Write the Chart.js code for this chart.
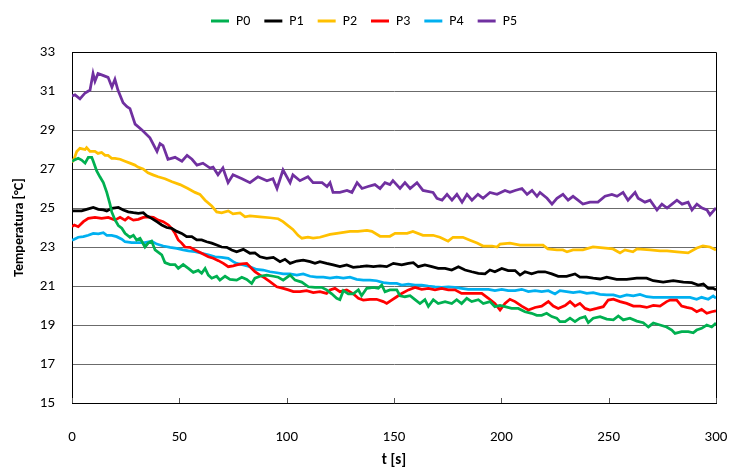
<!DOCTYPE html>
<html>
<head>
<meta charset="utf-8">
<script src="https://cdn.jsdelivr.net/npm/chart.js@4.4.0/dist/chart.umd.min.js"></script>
<style>
  body { margin: 0; background: #fff; }
  #wrap { width: 731px; height: 468px; position: relative; }
</style>
</head>
<body>
<div id="wrap"><canvas id="myChart"></canvas></div>
<script>
// readings taken off the curves: time [s] and temperature [°C] per sensor
const p0Time = [0, 1.1, 2.9, 4.5, 6.1, 7.6, 9.2, 9.9, 11.5, 13.0, 14.6, 16.2, 17.7, 18.5, 20.0, 21.6, 23.2, 24.7, 27.0, 28.6,
  30.1, 31.7, 34.0, 35.5, 37.1, 38.7, 41.8, 43.3, 45.7, 48.0, 49.5, 51.8, 54.2, 56.5, 58.8, 60.4, 62.0, 63.5, 65.1, 67.4,
  68.9, 71.3, 73.6, 76.7, 79.1, 81.4, 83.7, 85.2, 87.6, 90.7, 93.8, 96.1, 98.4, 101.6, 103.9, 107.0, 110.1, 113.2, 116.3, 118.6,
  121.0, 123.3, 124.8, 126.4, 128.7, 131.0, 133.4, 134.9, 137.3, 140.4, 142.7, 144.3, 145.8, 148.1, 151.3, 152.8, 155.1, 157.5, 159.8, 162.1,
  164.4, 166.0, 168.3, 170.6, 173.8, 176.9, 179.2, 181.5, 183.9, 186.2, 189.3, 191.6, 194.7, 197.0, 199.4, 201.7, 204.8, 207.9, 211.0, 214.1,
  216.5, 218.8, 221.1, 223.5, 225.8, 227.3, 229.7, 232.0, 234.3, 236.6, 239.0, 240.5, 242.8, 246.0, 249.1, 252.2, 254.5, 256.8, 259.9, 263.1,
  266.1, 268.5, 270.8, 273.9, 277.0, 279.4, 280.9, 284.0, 287.1, 289.4, 291.0, 293.3, 295.7, 298.0, 300];
const p0Temp = [27.4, 27.46, 27.55, 27.46, 27.3, 27.6, 27.6, 27.4, 26.9, 26.6, 26.3, 25.8, 25.2, 24.8, 24.4, 24.1, 23.96, 23.7, 23.5, 23.6,
  23.36, 23.45, 23.0, 23.2, 23.3, 22.85, 22.6, 22.2, 22.1, 22.1, 21.9, 22.1, 21.9, 21.7, 21.8, 21.65, 21.9, 21.56, 21.4, 21.5,
  21.3, 21.5, 21.34, 21.3, 21.45, 21.34, 21.13, 21.4, 21.5, 21.56, 21.5, 21.45, 21.3, 21.56, 21.3, 21.2, 20.96, 20.93, 20.93, 20.8,
  20.6, 20.37, 20.3, 20.76, 20.6, 20.6, 20.8, 20.5, 20.88, 20.93, 20.88, 21.05, 20.7, 20.8, 20.8, 20.5, 20.45, 20.5, 20.3, 20.1,
  20.3, 19.95, 20.3, 20.1, 20.2, 20.1, 20.3, 20.1, 20.37, 20.2, 20.3, 20.1, 20.2, 19.94, 20.0, 19.94, 19.85, 19.85, 19.68, 19.6,
  19.5, 19.5, 19.6, 19.43, 19.35, 19.17, 19.17, 19.35, 19.17, 19.35, 19.43, 19.12, 19.35, 19.43, 19.3, 19.26, 19.46, 19.26, 19.35, 19.2,
  19.12, 18.9, 19.1, 19.0, 18.9, 18.74, 18.57, 18.66, 18.66, 18.6, 18.74, 18.83, 19.0, 18.9, 19.1];

const p1Time = [0, 1.1, 4.5, 6.8, 9.9, 12.3, 14.6, 16.2, 18.5, 21.6, 23.9, 26.2, 28.6, 30.9, 33.2, 34.8, 37.1, 39.5, 41.8, 44.1,
  46.4, 48.8, 51.1, 53.4, 55.8, 58.1, 60.4, 62.7, 65.1, 67.4, 69.7, 72.1, 74.4, 76.7, 79.8, 82.9, 85.2, 87.6, 90.7, 93.8,
  96.9, 99.2, 101.6, 104.7, 107.7, 110.9, 113.2, 115.5, 118.6, 121.7, 124.8, 128.0, 131.0, 134.2, 137.3, 140.4, 143.5, 146.6, 149.7, 153.6,
  156.7, 159.0, 161.3, 164.4, 167.6, 170.6, 173.8, 176.9, 180.0, 183.1, 186.2, 189.3, 192.4, 194.7, 197.0, 200.2, 203.2, 206.4, 208.7, 211.0,
  214.1, 217.2, 220.3, 223.5, 226.5, 230.4, 234.3, 236.6, 239.8, 242.8, 246.0, 249.1, 253.7, 258.4, 263.1, 267.7, 270.8, 275.4, 280.1, 284.8,
  288.7, 291.7, 294.1, 296.4, 298.7, 300];
const p1Temp = [24.85, 24.85, 24.85, 24.93, 25.03, 24.93, 24.9, 24.85, 24.98, 25.03, 24.9, 24.8, 24.76, 24.73, 24.76, 24.6, 24.47, 24.3, 24.13, 24.0,
  23.96, 23.8, 23.7, 23.53, 23.53, 23.36, 23.36, 23.27, 23.2, 23.1, 23.0, 22.98, 22.85, 22.76, 22.88, 22.68, 22.7, 22.5, 22.42, 22.47,
  22.25, 22.37, 22.16, 22.28, 22.33, 22.25, 22.16, 22.25, 22.16, 22.08, 21.99, 22.08, 21.96, 21.99, 22.03, 21.99, 22.03, 21.99, 22.16, 22.08,
  22.16, 22.2, 21.99, 22.08, 21.99, 21.9, 21.9, 21.82, 21.99, 21.82, 21.73, 21.65, 21.62, 21.82, 21.73, 21.9, 21.79, 21.79, 21.56, 21.73,
  21.62, 21.73, 21.73, 21.62, 21.5, 21.5, 21.62, 21.45, 21.45, 21.4, 21.36, 21.45, 21.34, 21.34, 21.4, 21.4, 21.27, 21.2, 21.27, 21.2,
  21.17, 21.05, 21.1, 20.88, 20.88, 20.8];

const p2Time = [0, 1.1, 2.2, 3.7, 6.1, 6.8, 8.4, 10.7, 12.1, 13.8, 15.4, 16.8, 18.5, 20.0, 22.4, 24.7, 27.0, 29.3, 30.7, 33.1,
  35.4, 37.7, 40.1, 43.3, 46.6, 50.3, 54.0, 57.3, 59.6, 62.0, 65.1, 67.4, 69.7, 72.8, 75.0, 78.3, 80.6, 82.9, 87.6, 92.2,
  96.0, 98.3, 100.6, 102.9, 105.3, 107.1, 109.9, 112.3, 115.5, 120.2, 123.4, 129.5, 133.2, 137.4, 139.7, 143.5, 148.1, 150.5, 156.1, 158.8,
  163.5, 168.2, 171.4, 175.2, 177.5, 182.1, 185.4, 188.7, 191.5, 195.7, 198.0, 199.4, 204.0, 208.7, 214.8, 219.4, 221.7, 225.9, 228.7, 230.6,
  233.4, 238.0, 242.7, 247.4, 252.0, 255.3, 257.6, 261.3, 263.2, 269.3, 273.9, 277.2, 281.8, 287.0, 291.1, 293.9, 297.2, 300];
const p2Temp = [27.35, 27.55, 27.9, 28.06, 28.0, 28.1, 27.9, 27.9, 27.8, 27.85, 27.7, 27.7, 27.55, 27.55, 27.5, 27.4, 27.3, 27.2, 27.1, 27.0,
  26.8, 26.7, 26.6, 26.5, 26.35, 26.2, 26.0, 25.8, 25.7, 25.4, 25.1, 24.8, 24.75, 24.85, 24.7, 24.75, 24.55, 24.6, 24.55, 24.5,
  24.45, 24.3, 24.1, 23.9, 23.6, 23.45, 23.5, 23.45, 23.5, 23.65, 23.7, 23.8, 23.8, 23.85, 23.8, 23.55, 23.55, 23.7, 23.7, 23.8,
  23.6, 23.6, 23.5, 23.3, 23.5, 23.5, 23.35, 23.2, 23.05, 23.05, 23.0, 23.15, 23.2, 23.1, 23.1, 23.1, 22.9, 22.85, 22.85, 22.75,
  22.85, 22.85, 23.0, 22.95, 22.9, 22.7, 22.85, 22.75, 22.9, 22.85, 22.8, 22.8, 22.75, 22.7, 22.95, 23.05, 23.0, 22.85];

const p3Time = [0, 1.1, 2.9, 5.3, 7.6, 10.7, 13.8, 16.9, 20.0, 22.4, 24.7, 26.2, 28.6, 30.9, 33.2, 35.5, 37.9, 40.2, 42.5, 44.9,
  46.4, 48.0, 49.5, 51.1, 52.6, 55.0, 57.3, 60.4, 63.5, 65.8, 68.2, 70.5, 72.8, 75.1, 76.7, 79.1, 81.4, 82.9, 85.2, 87.6,
  89.9, 92.2, 95.4, 98.4, 100.8, 103.1, 106.2, 109.3, 112.4, 115.5, 118.6, 120.2, 122.5, 124.8, 128.0, 131.0, 133.4, 135.7, 138.8, 141.9,
  145.0, 146.6, 148.9, 151.3, 153.6, 156.7, 159.8, 162.9, 166.0, 169.1, 172.2, 175.3, 178.4, 181.5, 184.6, 187.7, 190.9, 194.0, 197.0, 199.4,
  201.7, 204.0, 206.4, 209.5, 212.6, 215.7, 218.8, 221.9, 224.2, 226.5, 229.7, 232.0, 234.3, 236.6, 239.0, 241.3, 244.4, 247.5, 249.8, 252.2,
  255.3, 258.4, 261.5, 264.6, 267.7, 270.8, 273.9, 277.0, 278.6, 281.7, 284.0, 286.3, 288.7, 291.0, 293.3, 295.7, 298.0, 300];
const p3Temp = [24.05, 24.13, 24.04, 24.3, 24.47, 24.52, 24.47, 24.52, 24.38, 24.52, 24.38, 24.52, 24.38, 24.42, 24.52, 24.55, 24.52, 24.38, 24.3, 24.13,
  23.96, 23.7, 23.36, 23.2, 23.0, 22.98, 22.85, 22.68, 22.5, 22.42, 22.3, 22.16, 21.99, 22.03, 22.08, 22.13, 22.16, 21.99, 21.73, 21.56,
  21.4, 21.22, 20.96, 20.88, 20.8, 20.71, 20.71, 20.76, 20.66, 20.71, 20.62, 20.8, 20.88, 20.71, 20.8, 20.6, 20.37, 20.28, 20.32, 20.32,
  20.2, 20.11, 20.28, 20.45, 20.62, 20.8, 20.93, 20.83, 20.88, 20.8, 20.88, 20.8, 20.8, 20.62, 20.62, 20.62, 20.62, 20.37, 20.11, 19.77,
  20.11, 20.32, 20.2, 19.97, 19.77, 19.9, 19.97, 20.2, 19.97, 19.85, 20.0, 20.2, 19.97, 20.11, 19.85, 19.77, 19.85, 19.94, 20.28, 20.32,
  20.2, 20.11, 19.97, 19.97, 19.9, 20.0, 19.97, 20.2, 20.28, 20.28, 19.97, 19.9, 19.85, 19.68, 19.8, 19.6, 19.68, 19.73];

const p4Time = [0, 1.1, 2.9, 5.3, 7.6, 9.9, 12.3, 14.6, 16.2, 18.5, 20.8, 23.2, 24.7, 27.8, 30.9, 34.0, 37.1, 39.5, 42.5, 45.7,
  48.8, 51.8, 54.2, 57.3, 60.4, 63.5, 66.6, 69.7, 72.8, 75.1, 76.7, 79.8, 82.9, 86.0, 89.1, 92.2, 95.4, 98.4, 101.6, 104.7,
  107.7, 110.9, 114.0, 117.1, 120.2, 123.3, 126.4, 129.5, 132.6, 135.7, 138.8, 141.9, 145.0, 148.1, 151.3, 153.6, 156.7, 159.8, 162.9, 166.0,
  169.1, 172.2, 175.3, 178.4, 181.5, 184.6, 187.7, 190.9, 194.0, 197.0, 200.2, 203.2, 206.4, 209.5, 212.6, 215.7, 218.8, 221.9, 225.0, 227.3,
  230.4, 233.5, 236.6, 239.8, 242.8, 246.0, 249.1, 252.2, 255.3, 258.4, 261.5, 264.6, 267.7, 270.8, 278.6, 287.9, 291.0, 293.3, 296.4, 298.7, 300];
const p4Temp = [23.35, 23.4, 23.5, 23.53, 23.6, 23.7, 23.67, 23.73, 23.6, 23.6, 23.53, 23.4, 23.27, 23.22, 23.22, 23.22, 23.3, 23.15, 23.05, 22.98,
  22.93, 22.85, 22.8, 22.76, 22.68, 22.6, 22.5, 22.47, 22.42, 22.25, 22.16, 22.08, 21.99, 21.85, 21.82, 21.73, 21.68, 21.62, 21.62, 21.56,
  21.62, 21.5, 21.45, 21.45, 21.4, 21.45, 21.4, 21.45, 21.34, 21.3, 21.3, 21.27, 21.17, 21.13, 21.13, 21.05, 21.1, 21.05, 21.05, 21.0,
  20.96, 20.93, 20.96, 20.93, 20.88, 20.83, 20.83, 20.83, 20.83, 20.76, 20.83, 20.76, 20.76, 20.83, 20.71, 20.76, 20.71, 20.76, 20.59, 20.76,
  20.71, 20.66, 20.71, 20.62, 20.66, 20.57, 20.54, 20.54, 20.45, 20.54, 20.49, 20.57, 20.45, 20.42, 20.42, 20.42, 20.32, 20.42, 20.32, 20.49, 20.37];

const p5Time = [0, 1.4, 3.7, 6.1, 8.4, 9.8, 10.7, 12.1, 14.4, 16.8, 18.6, 20.0, 21.4, 23.8, 25.6, 27.0, 29.4, 32.6, 36.3, 39.6,
  41.0, 42.4, 44.7, 48.0, 51.2, 53.6, 55.9, 58.2, 61.0, 64.3, 65.7, 68.0, 70.3, 72.7, 75.0, 79.2, 82.9, 86.6, 90.8, 93.6,
  95.5, 98.3, 101.6, 102.9, 106.2, 109.9, 112.3, 116.5, 118.8, 120.2, 121.6, 124.8, 128.1, 130.4, 132.8, 135.1, 137.9, 141.1, 143.5, 145.8,
  148.1, 149.5, 152.8, 155.1, 157.5, 160.7, 163.5, 168.2, 170.0, 172.4, 174.7, 177.0, 179.3, 181.7, 184.0, 186.3, 189.1, 191.5, 194.7, 198.0,
  201.7, 204.0, 206.4, 209.6, 212.0, 214.3, 216.6, 218.0, 221.3, 223.6, 225.9, 228.7, 231.1, 233.4, 235.7, 238.0, 241.3, 245.0, 248.3, 251.5,
  253.9, 256.7, 259.0, 262.3, 263.7, 266.9, 269.3, 272.5, 274.8, 277.2, 279.5, 281.8, 284.2, 287.0, 288.8, 291.1, 293.5, 295.8, 297.2, 300];
const p5Temp = [30.75, 30.8, 30.6, 30.9, 31.05, 31.9, 31.5, 31.9, 31.8, 31.7, 31.2, 31.6, 31.05, 30.4, 30.2, 30.1, 29.3, 29.0, 28.6, 27.9,
  28.3, 28.2, 27.5, 27.6, 27.4, 27.7, 27.5, 27.2, 27.3, 27.05, 27.1, 26.7, 27.05, 26.3, 26.7, 26.5, 26.3, 26.6, 26.4, 26.5,
  26.0, 26.95, 26.3, 26.7, 26.4, 26.6, 26.3, 26.3, 26.1, 26.3, 25.8, 25.8, 25.9, 25.8, 26.3, 26.0, 26.1, 26.2, 26.0, 26.3,
  26.2, 26.4, 26.0, 26.3, 26.0, 26.3, 25.9, 25.8, 25.5, 25.4, 25.7, 25.4, 25.7, 25.3, 25.7, 25.4, 25.7, 25.5, 25.8, 25.7,
  25.9, 25.8, 25.9, 26.0, 25.7, 25.9, 25.6, 25.8, 25.5, 25.2, 25.5, 25.7, 25.4, 25.6, 25.4, 25.2, 25.3, 25.3, 25.6, 25.7,
  25.6, 25.8, 25.4, 25.8, 25.5, 25.3, 25.4, 24.9, 25.2, 25.0, 25.2, 25.4, 25.2, 25.3, 24.9, 25.2, 25.0, 24.9, 24.65, 25.0];

const seriesNames = ['P0', 'P1', 'P2', 'P3', 'P4', 'P5'];
const seriesTimes = [p0Time, p1Time, p2Time, p3Time, p4Time, p5Time];
const seriesTemps = [p0Temp, p1Temp, p2Temp, p3Temp, p4Temp, p5Temp];
const seriesColors = ['#00B050', '#000000', '#FFC000', '#FF0000', '#00B0F0', '#7030A0'];

const yTicks = [15, 17, 19, 21, 23, 25, 27, 29, 31, 33];
const xTicks = [0, 50, 100, 150, 200, 250, 300];

const FONT = "Carlito, Lato, 'Liberation Sans', sans-serif";

// extra room under the legend so the plot starts lower
const legendGap = {
    id: 'legendGap',
    beforeLayout(chart) {
        const legend = chart.legend;
        if (legend && !legend._gapPatched) {
            const fit = legend.fit.bind(legend);
            legend.fit = function () {
                fit();
                this.height += 14;
            };
            legend._gapPatched = true;
        }
    }
};

// frame on top/right and small inward ticks on the x axis
const framePlugin = {
    id: 'frame',
    afterDraw(chart) {
        const {ctx, chartArea: a, scales} = chart;
        ctx.save();
        ctx.strokeStyle = '#000';
        ctx.lineWidth = 1;
        ctx.beginPath();
        ctx.moveTo(a.left, a.top + 0.5);
        ctx.lineTo(a.right + 0.5, a.top + 0.5);
        ctx.lineTo(a.right + 0.5, a.bottom);
        ctx.stroke();
        ctx.strokeStyle = '#555';
        xTicks.forEach(v => {
            const x = Math.round(scales.x.getPixelForValue(v)) + 0.5;
            ctx.beginPath();
            ctx.moveTo(x, a.bottom);
            ctx.lineTo(x, a.bottom - 5);
            ctx.stroke();
        });
        ctx.restore();
    }
};

const ctx = document.getElementById('myChart').getContext('2d');
new Chart(ctx, {
    type: 'line',
    data: {
        datasets: seriesNames.map((name, i) => ({
            label: name,
            data: seriesTimes[i].map((t, j) => ({x: t, y: seriesTemps[i][j]})),
            borderColor: seriesColors[i],
            backgroundColor: seriesColors[i],
            borderWidth: 2.75,
            pointRadius: 0,
            tension: 0
        }))
    },
    options: {
        responsive: true,
        maintainAspectRatio: false,
        animation: false,
        layout: { padding: { left: 12, right: 15, top: 0, bottom: 0 } },
        plugins: {
            legend: {
                position: 'top',
                labels: {
                    font: { family: FONT, size: 14 },
                    color: '#000',
                    boxWidth: 18,
                    boxHeight: 3,
                    padding: 14,
                    generateLabels(chart) {
                        return chart.data.datasets.map((ds, i) => ({
                            text: ds.label,
                            fillStyle: ds.borderColor,
                            strokeStyle: ds.borderColor,
                            lineWidth: 0,
                            hidden: false,
                            datasetIndex: i
                        }));
                    }
                }
            },
            tooltip: { enabled: false }
        },
        scales: {
            x: {
                type: 'linear',
                min: 0,
                max: 300,
                afterBuildTicks: s => { s.ticks = xTicks.map(v => ({value: v})); },
                afterFit: s => { s.height = 65; s.paddingLeft = 0; s.paddingRight = 0; },
                grid: { display: false, drawTicks: false },
                border: { color: '#000', width: 1 },
                ticks: { font: { family: FONT, size: 15 }, color: '#000', padding: 25, maxRotation: 0 },
                title: {
                    display: true,
                    text: 't [s]',
                    font: { family: FONT, size: 15, weight: 'bold', lineHeight: 1 },
                    color: '#000',
                    padding: 0
                }
            },
            y: {
                min: 15,
                max: 33,
                afterBuildTicks: s => { s.ticks = yTicks.map(v => ({value: v})); },
                afterFit: s => { s.width = 60; },
                grid: { color: '#6b6b6b', drawTicks: false },
                border: { color: '#000', width: 1 },
                ticks: { font: { family: FONT, size: 15 }, color: '#000', padding: 17 },
                title: {
                    display: true,
                    text: 'Temperatura [°C]',
                    font: { family: FONT, size: 14, weight: 'bold', lineHeight: 1 },
                    color: '#000',
                    padding: 0
                }
            }
        }
    },
    plugins: [legendGap, framePlugin]
});
</script>
</body>
</html>
